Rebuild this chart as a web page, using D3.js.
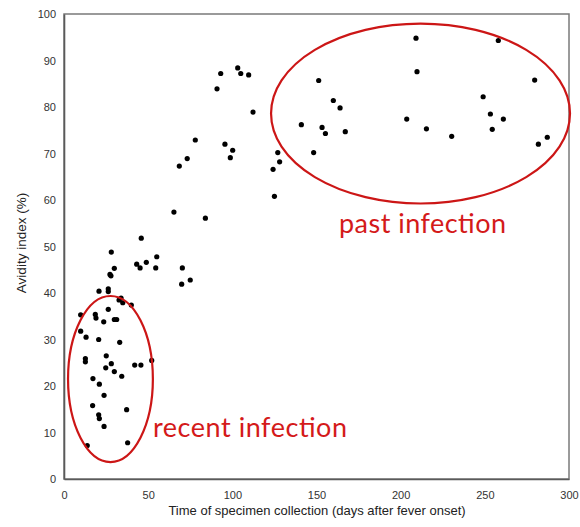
<!DOCTYPE html>
<html>
<head>
<meta charset="utf-8">
<script src="https://cdn.jsdelivr.net/npm/d3@7/dist/d3.min.js"></script>
<style>
  html, body { margin: 0; padding: 0; background: #fff; }
  svg { display: block; }
</style>
</head>
<body>
<svg id="chart" width="580" height="527"></svg>
<script>
// Days after fever onset at specimen collection
const days = [
  9.9, 9.9, 13.1, 12.7, 12.7, 13.8, 17.2, 17.0, 18.6, 19.0,
  20.6, 21.0, 20.6, 21.0, 20.8, 23.6, 23.8, 23.8, 24.8, 25.1,
  26.3, 26.3, 26.3, 27.3, 27.9, 28.1, 28.1, 29.9, 29.9, 31.3,
  29.9, 32.7, 33.9, 34.9, 33.1, 34.3, 37.2, 37.8, 40.0, 42.0,
  45.7, 52.1, 43.2, 45.2, 45.9, 48.9, 54.5, 55.1,
  65.3, 68.5, 73.2, 69.9, 70.3, 75.0, 78.0, 84.0, 90.9, 93.1,
  95.6, 98.8, 100.2, 103.2, 105.0, 109.7, 112.3, 124.2, 125.0, 127.0,
  128.1,
  141.0, 148.3, 151.3, 153.3, 155.3, 160.0, 164.0, 167.1, 203.6, 209.1,
  209.7, 215.3, 230.3, 249.0, 253.3, 254.4, 258.0, 261.0, 279.6, 281.8,
  287.1
];
// Avidity index (%) for each specimen
const avidity = [
  35.3, 31.8, 30.5, 25.9, 25.2, 7.2, 21.6, 15.8, 35.4, 34.6,
  30.0, 20.4, 13.8, 13.0, 40.4, 33.8, 18.0, 11.3, 23.9, 26.5,
  40.9, 40.3, 36.5, 44.0, 43.7, 48.8, 24.8, 45.3, 34.3, 34.3,
  23.1, 38.5, 38.9, 37.9, 29.4, 22.1, 14.9, 7.8, 37.4, 24.5,
  24.5, 25.5, 46.2, 45.4, 51.8, 46.6, 45.4, 47.8,
  57.4, 67.3, 68.9, 41.9, 45.4, 42.8, 72.9, 56.1, 83.9, 87.2,
  72.0, 69.1, 70.7, 88.4, 87.2, 86.9, 78.9, 66.6, 60.8, 70.2,
  68.2,
  76.2, 70.2, 85.7, 75.6, 74.3, 81.4, 79.8, 74.7, 77.4, 94.8,
  87.6, 75.3, 73.7, 82.2, 78.5, 75.2, 94.3, 77.4, 85.8, 72.0,
  73.5
];

const xTicks = [0, 50, 100, 150, 200, 250, 300];
const yTicks = [0, 10, 20, 30, 40, 50, 60, 70, 80, 90, 100];

// Highlighted groups: centre (day, %) and half-extent (days, %)
const groupNames = ["recent infection", "past infection"];
const groupCx = [27.6, 211.8];
const groupCy = [21.5, 78.6];
const groupRx = [25.2, 88.8];
const groupRy = [17.85, 19.35];

const margin = { left: 64, top: 14, right: 11, bottom: 48 };
const W = 580, H = 527;
const iw = W - margin.left - margin.right;
const ih = H - margin.top - margin.bottom;

const svg = d3.select("#chart");
const g = svg.append("g").attr("transform", `translate(${margin.left},${margin.top})`);

const x = d3.scaleLinear().domain([0, 300]).range([0, iw]);
const y = d3.scaleLinear().domain([0, 100]).range([ih, 0]);

// plot frame
g.append("rect")
  .attr("x", 0).attr("y", 0).attr("width", iw).attr("height", ih)
  .attr("fill", "none").attr("stroke", "#7a7a7a").attr("stroke-width", 1.5);

const tickFont = "'Liberation Sans', Arial, sans-serif";

const xAxis = g.append("g").attr("transform", `translate(0,${ih})`)
  .call(d3.axisBottom(x).tickValues(xTicks).tickSize(0).tickPadding(12));
const yAxis = g.append("g")
  .call(d3.axisLeft(y).tickValues(yTicks).tickSize(0).tickPadding(8));
[xAxis, yAxis].forEach(a => {
  a.select(".domain").attr("stroke", "#5a5a5a").attr("stroke-width", 1.6);
  a.selectAll("text").attr("font-family", tickFont).attr("font-size", 11)
    .attr("fill", "#333");
});

// axis titles
svg.append("text")
  .attr("x", 317).attr("y", 515)
  .attr("text-anchor", "middle")
  .attr("font-family", tickFont).attr("font-size", 13).attr("fill", "#222")
  .text("Time of specimen collection (days after fever onset)");
svg.append("text")
  .attr("transform", "translate(26,243) rotate(-90)")
  .attr("text-anchor", "middle")
  .attr("font-family", tickFont).attr("font-size", 13.5).attr("fill", "#222")
  .text("Avidity index (%)");

// data points
g.selectAll("circle.pt")
  .data(days.map((d, i) => [d, avidity[i]]))
  .join("circle")
  .attr("class", "pt")
  .attr("cx", d => x(d[0]))
  .attr("cy", d => y(d[1]))
  .attr("r", 2.6)
  .attr("fill", "#000");

// group outlines
g.selectAll("ellipse.grp")
  .data(groupNames.map((n, i) => i))
  .join("ellipse")
  .attr("class", "grp")
  .attr("cx", i => x(groupCx[i]))
  .attr("cy", i => y(groupCy[i]))
  .attr("rx", i => x(groupRx[i]) - x(0))
  .attr("ry", i => y(0) - y(groupRy[i]))
  .attr("fill", "none")
  .attr("stroke", "#cc1616")
  .attr("stroke-width", 2.2);

// group labels
const labelFont = "Lato, 'Open Sans', sans-serif";
svg.append("text")
  .attr("x", 153).attr("y", 437)
  .attr("font-family", labelFont).attr("font-size", 27).attr("fill", "#d41a1a")
  .attr("textLength", 194).attr("lengthAdjust", "spacing")
  .text(groupNames[0]);
svg.append("text")
  .attr("x", 339).attr("y", 233)
  .attr("font-family", labelFont).attr("font-size", 27).attr("fill", "#d41a1a")
  .attr("textLength", 167).attr("lengthAdjust", "spacing")
  .text(groupNames[1]);
</script>
</body>
</html>
